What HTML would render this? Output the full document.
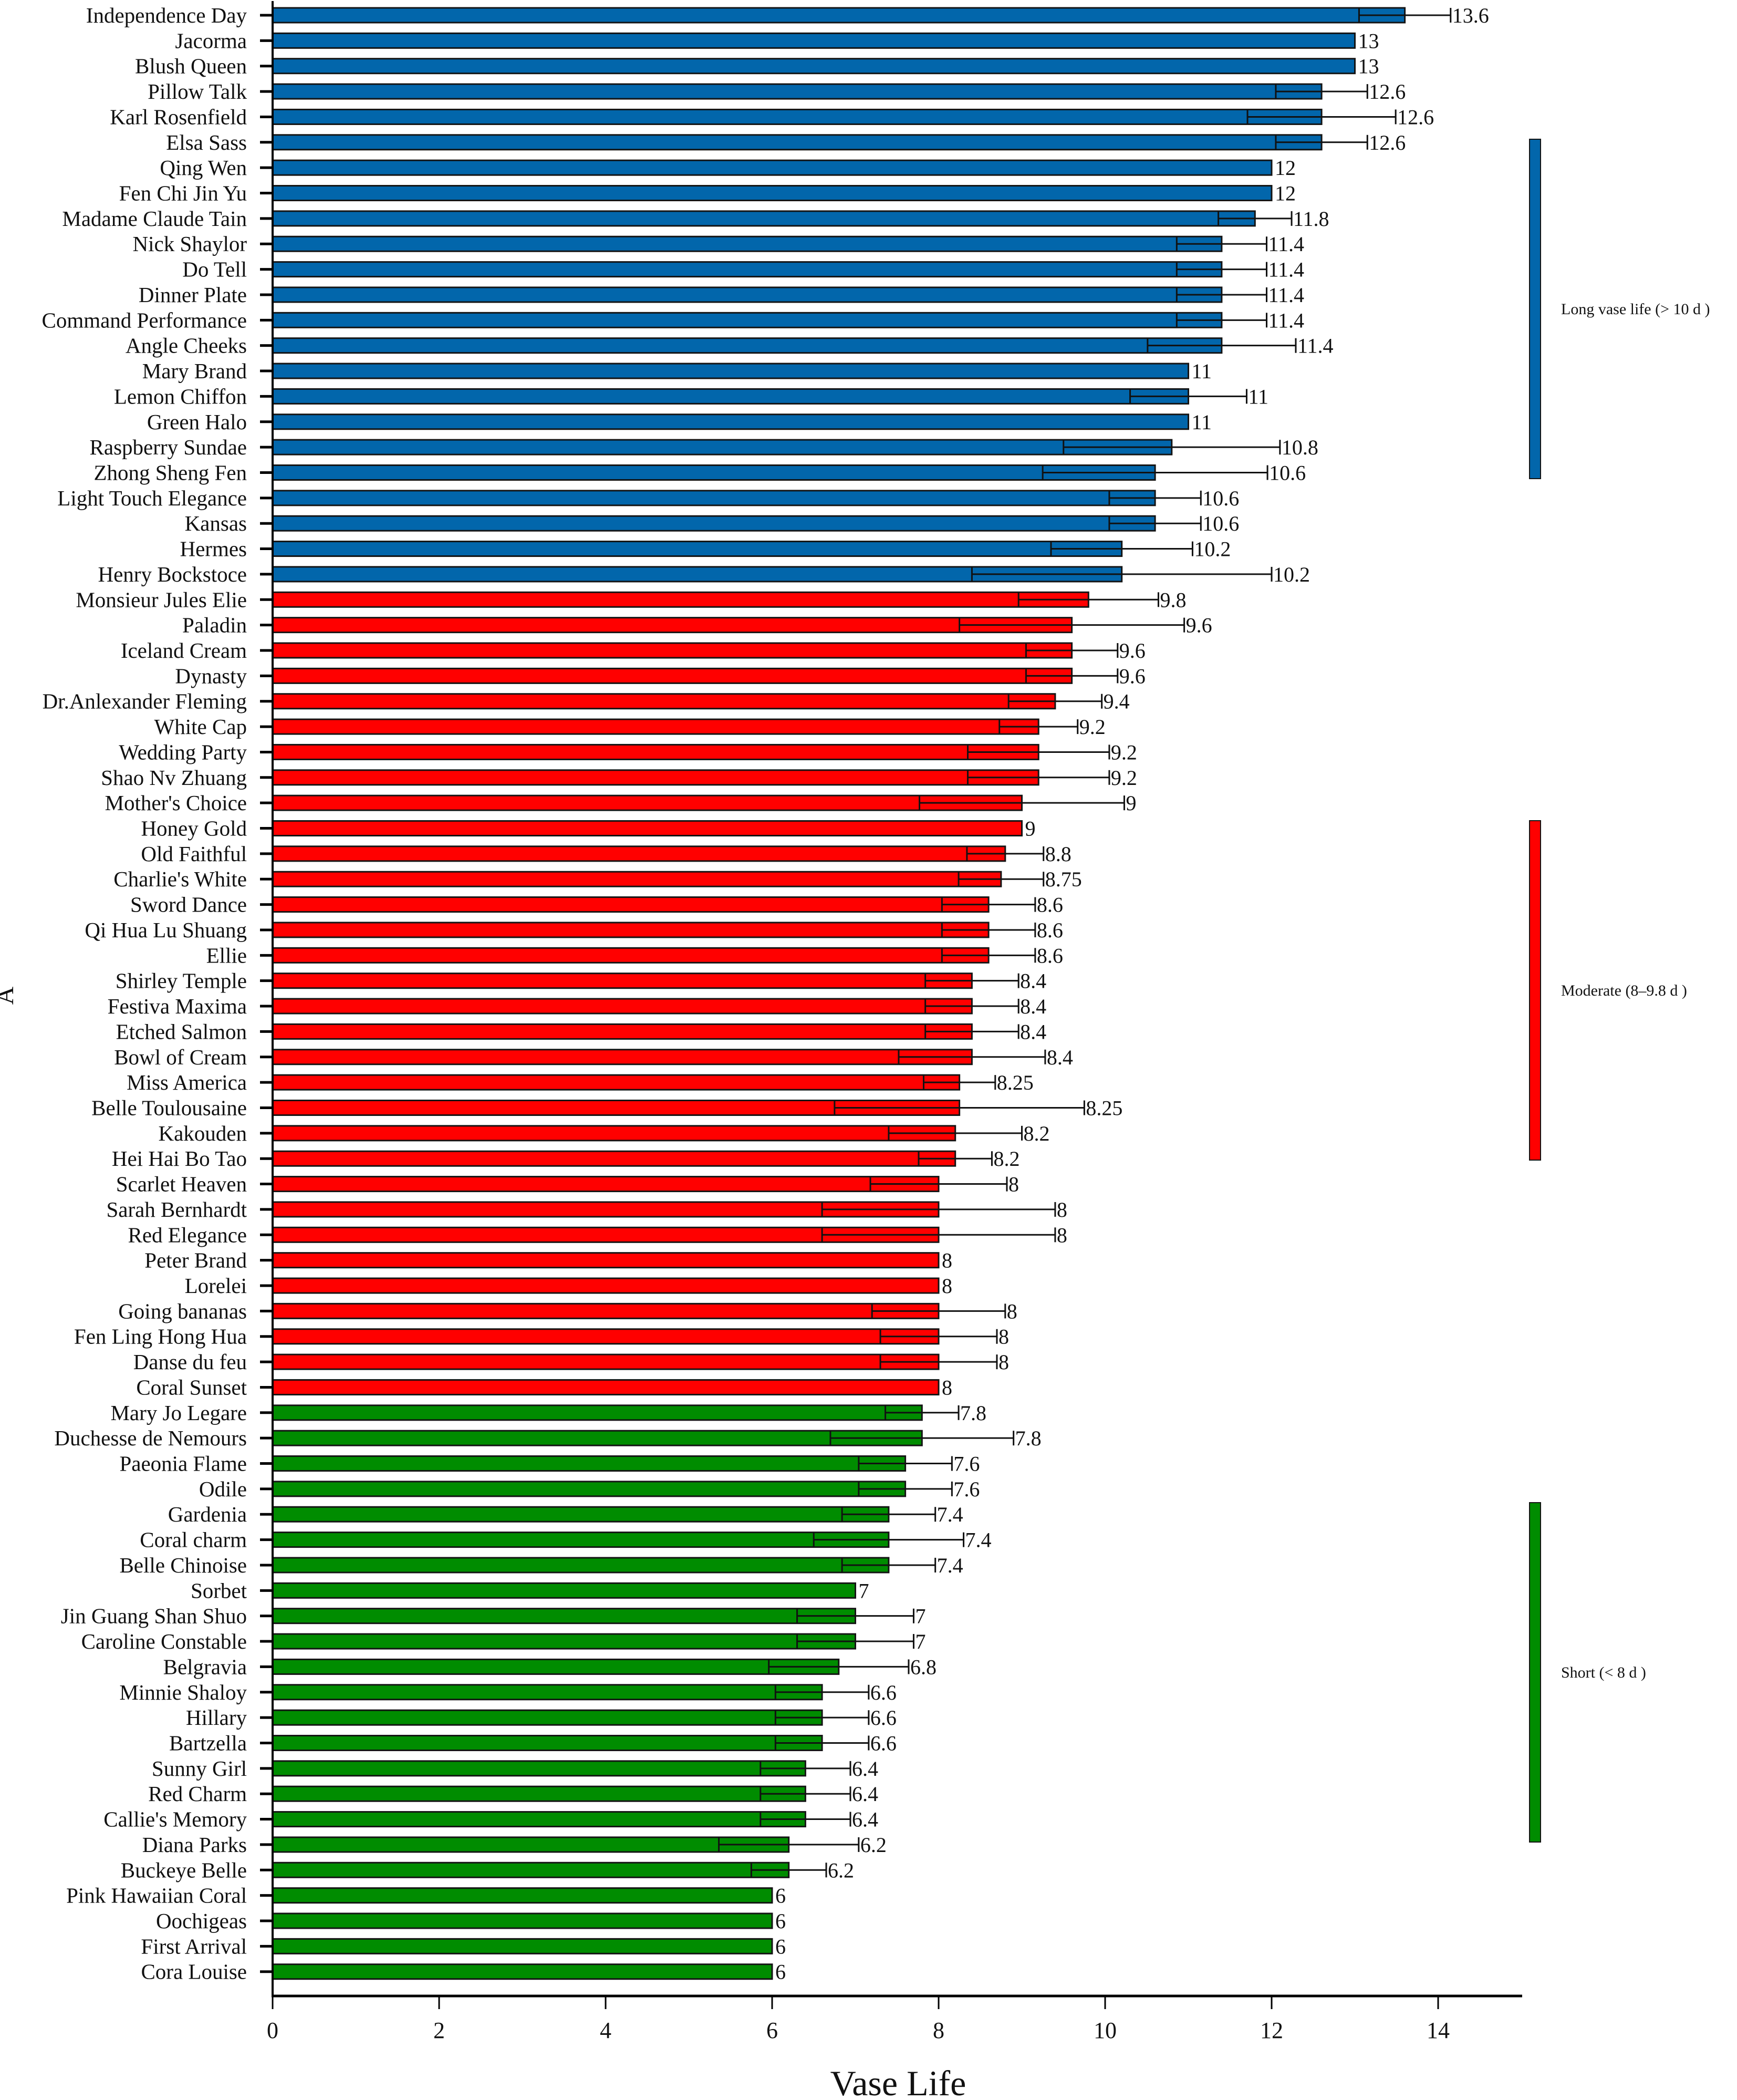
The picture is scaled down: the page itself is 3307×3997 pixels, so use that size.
<!DOCTYPE html>
<html>
<head>
<meta charset="utf-8">
<style>
  html, body { margin: 0; padding: 0; background: #fff; }
  svg { display: block; }
  text { font-family: "Liberation Serif", "DejaVu Serif", serif; fill: #111; }
</style>
</head>
<body>
<svg id="chart" width="3307" height="3997" viewBox="0 0 3307 3997" xmlns="http://www.w3.org/2000/svg">
  <g id="plot"></g>
  <text x="25" y="1895" font-size="48" text-anchor="middle" transform="rotate(-90 25 1895)">A</text>
  <text x="1710" y="3988" font-size="68" text-anchor="middle">Vase Life</text>
</svg>
<script>
const categories = ["Independence Day","Jacorma","Blush Queen","Pillow Talk","Karl Rosenfield","Elsa Sass","Qing Wen","Fen Chi Jin Yu","Madame Claude Tain","Nick Shaylor","Do Tell","Dinner Plate","Command Performance","Angle Cheeks","Mary Brand","Lemon Chiffon","Green Halo","Raspberry Sundae","Zhong Sheng Fen","Light Touch Elegance","Kansas","Hermes","Henry Bockstoce",
"Monsieur Jules Elie","Paladin","Iceland Cream","Dynasty","Dr.Anlexander Fleming","White Cap","Wedding Party","Shao Nv Zhuang","Mother's Choice","Honey Gold","Old Faithful","Charlie's White","Sword Dance","Qi Hua Lu Shuang","Ellie","Shirley Temple","Festiva Maxima","Etched Salmon","Bowl of Cream","Miss America","Belle Toulousaine","Kakouden","Hei Hai Bo Tao","Scarlet Heaven","Sarah Bernhardt","Red Elegance","Peter Brand","Lorelei","Going bananas","Fen Ling Hong Hua","Danse du feu","Coral Sunset",
"Mary Jo Legare","Duchesse de Nemours","Paeonia Flame","Odile","Gardenia","Coral charm","Belle Chinoise","Sorbet","Jin Guang Shan Shuo","Caroline Constable","Belgravia","Minnie Shaloy","Hillary","Bartzella","Sunny Girl","Red Charm","Callie's Memory","Diana Parks","Buckeye Belle","Pink Hawaiian Coral","Oochigeas","First Arrival","Cora Louise"];
const values = [13.6,13,13,12.6,12.6,12.6,12,12,11.8,11.4,11.4,11.4,11.4,11.4,11,11,11,10.8,10.6,10.6,10.6,10.2,10.2,
9.8,9.6,9.6,9.6,9.4,9.2,9.2,9.2,9,9,8.8,8.75,8.6,8.6,8.6,8.4,8.4,8.4,8.4,8.25,8.25,8.2,8.2,8,8,8,8,8,8,8,8,8,
7.8,7.8,7.6,7.6,7.4,7.4,7.4,7,7,7,6.8,6.6,6.6,6.6,6.4,6.4,6.4,6.2,6.2,6,6,6,6];
const errors = [0.55,0,0,0.55,0.89,0.55,0,0,0.44,0.54,0.54,0.54,0.54,0.89,0,0.7,0,1.3,1.35,0.55,0.55,0.85,1.8,
0.84,1.35,0.55,0.55,0.56,0.47,0.85,0.85,1.23,0,0.46,0.51,0.56,0.56,0.56,0.56,0.56,0.56,0.88,0.43,1.5,0.8,0.44,0.82,1.4,1.4,0,0,0.8,0.7,0.7,0,
0.44,1.1,0.56,0.56,0.56,0.9,0.56,0,0.7,0.7,0.84,0.56,0.56,0.56,0.54,0.54,0.54,0.84,0.45,0,0,0,0];
const valueLabels = ["13.6","13","13","12.6","12.6","12.6","12","12","11.8","11.4","11.4","11.4","11.4","11.4","11","11","11","10.8","10.6","10.6","10.6","10.2","10.2",
"9.8","9.6","9.6","9.6","9.4","9.2","9.2","9.2","9","9","8.8","8.75","8.6","8.6","8.6","8.4","8.4","8.4","8.4","8.25","8.25","8.2","8.2","8","8","8","8","8","8","8","8","8",
"7.8","7.8","7.6","7.6","7.4","7.4","7.4","7","7","7","6.8","6.6","6.6","6.6","6.4","6.4","6.4","6.2","6.2","6","6","6","6"];
const groups = ["long","moderate","short"];
const groupCounts = [23,32,23];
const groupLabels = ["Long vase life (> 10 d )","Moderate (8\u20139.8 d )","Short (< 8 d )"];
const xTicks = [0,2,4,6,8,10,12,14];

const colors = {long:"#0266ab", moderate:"#ff0000", short:"#008c00"};
const legendCenters = [588, 1885, 3183];
const NS = "http://www.w3.org/2000/svg";
const plot = document.getElementById("plot");
const X0 = 519, XU = 158.5, Y0 = 29, YS = 48.36, AXY = 3799;
function xs(v){ return X0 + v*XU; }
function ys(i){ return Y0 + i*YS; }
function mk(tag, attrs, parent){
  const e = document.createElementNS(NS, tag);
  for (const k in attrs) e.setAttribute(k, attrs[k]);
  (parent||plot).appendChild(e);
  return e;
}
function groupOf(i){
  let acc = 0;
  for (let g = 0; g < groups.length; g++){ acc += groupCounts[g]; if (i < acc) return groups[g]; }
  return groups[groups.length-1];
}

categories.forEach((c, i) => {
  const cy = ys(i), v = values[i], e = errors[i];
  const col = colors[groupOf(i)];
  const bar = mk("rect", {x: X0, y: cy-14, width: xs(v)-X0, height: 28, fill: col, stroke: "#141414", "stroke-width": 3});
  
  
  let lblX = xs(v) + 6;
  if (e > 0){
    const el = mk("line", {x1: xs(v-e), x2: xs(v+e), y1: cy, y2: cy, stroke: "#111", "stroke-width": 3});
    
    
    const l2 = mk("line", {x1: xs(v-e), x2: xs(v-e), y1: cy-14, y2: cy+14, stroke: "#111", "stroke-width": 3});
    
    
    const cap = mk("line", {x1: xs(v+e), x2: xs(v+e), y1: cy-14, y2: cy+14, stroke: "#111", "stroke-width": 3});
    
    
    lblX = xs(v+e) + 3;
  }
  const vt = mk("text", {x: lblX, y: cy+14, "font-size": 40});
  vt.textContent = valueLabels[i];
  
  
  const tk = mk("line", {x1: 495, x2: X0, y1: cy, y2: cy, stroke: "#000", "stroke-width": 5});
  
  
  const ct = mk("text", {x: 470, y: cy+14, "font-size": 41, "text-anchor": "end"});
  ct.textContent = c;
  
  
});

// axes
const ya = mk("line", {x1: X0, x2: X0, y1: 2, y2: AXY+2, stroke: "#000", "stroke-width": 4});


const xa = mk("line", {x1: X0-2, x2: 2898, y1: AXY, y2: AXY, stroke: "#000", "stroke-width": 5});


xTicks.forEach(t => {
  const l = mk("line", {x1: xs(t), x2: xs(t), y1: AXY, y2: AXY+25, stroke: "#000", "stroke-width": 3});
  
  
  const tt = mk("text", {x: xs(t), y: 3879, "font-size": 44, "text-anchor": "middle"});
  tt.textContent = String(t);
  
  
});

// group legend bars
groups.forEach((g, k) => {
  const c = legendCenters[k];
  const y1 = c - 323, y2 = c + 323;
  const r = mk("rect", {x: 2912, y: y1, width: 21, height: y2 - y1, fill: colors[g], stroke: "#141414", "stroke-width": 2});
  
  
  const t = mk("text", {x: 2972, y: c + 10, "font-size": 30});
  t.textContent = groupLabels[k];
  
  
});
</script>
</body>
</html>
